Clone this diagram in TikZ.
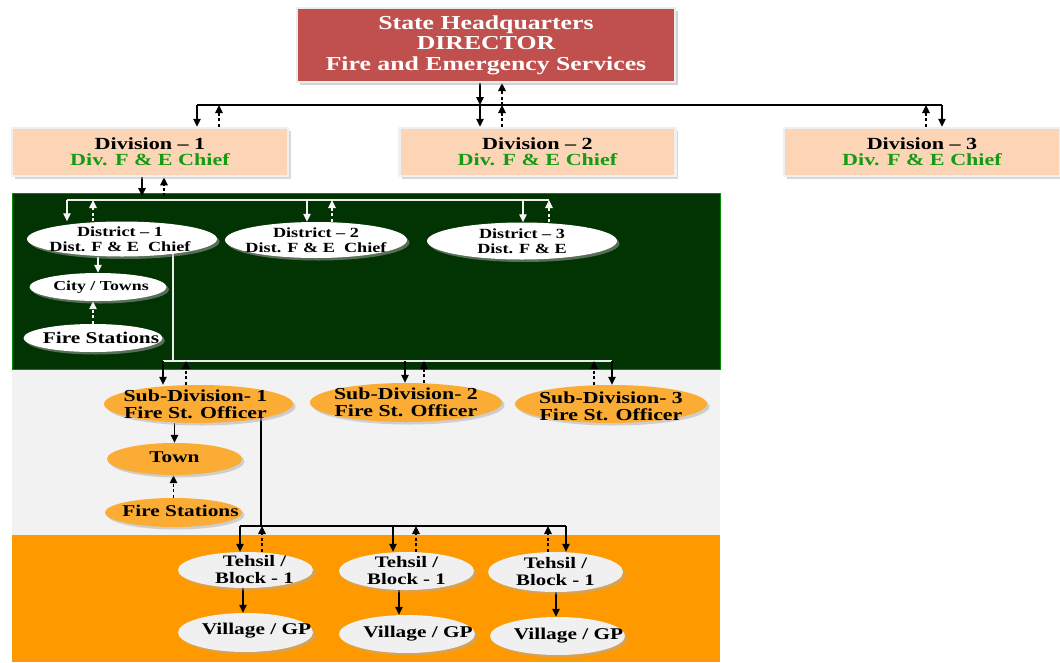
\documentclass[tikz,border=0pt]{standalone}
\usepackage{fontspec}
\setmainfont{Liberation Serif}[FakeStretch=1.3]
\usetikzlibrary{arrows.meta,shapes.geometric,shadows}
\definecolor{hqred}{HTML}{C0504D}
\definecolor{divfill}{HTML}{FBD5B5}
\definecolor{divgreen}{RGB}{20,155,20}
\definecolor{bggreen}{RGB}{2,51,2}
\definecolor{edgegreen}{RGB}{0,140,0}
\definecolor{bggray}{HTML}{F2F2F2}
\definecolor{bgorange}{HTML}{FF9900}
\definecolor{sdorange}{RGB}{251,172,52}
\definecolor{tehgray}{HTML}{F0F0F0}
\pgfdeclarelayer{bg}
\pgfdeclarelayer{lines}
\pgfsetlayers{bg,lines,main}
\tikzset{
  sarr/.style={-{Triangle[width=7.5pt,length=8pt]}, line width=1.2pt, black},
  darr/.style={sarr, dash pattern=on 3pt off 2.5pt},
  wsarr/.style={-{Triangle[width=7.5pt,length=8pt]}, line width=1.2pt, white!92!gray},
  wdarr/.style={wsarr, dash pattern=on 3pt off 2.5pt},
  ln/.style={line width=1.2pt, black},
  wln/.style={line width=1.2pt, white!85!gray},
  hqbox/.style={rectangle, minimum width=378pt, minimum height=74pt, fill=hqred,
    draw=gray!15, line width=2pt, text=white, align=center, inner sep=0pt,
    font=\fontsize{19.8}{20.5}\selectfont\bfseries,
    drop shadow={shadow xshift=3pt, shadow yshift=-3pt, fill=gray!70}},
  divbox/.style={rectangle, minimum width=276pt, minimum height=48pt, fill=divfill,
    draw=gray!12, line width=2.5pt, align=center, inner sep=0pt,
    font=\fontsize{17}{16}\selectfont\bfseries,
    drop shadow={shadow xshift=2.5pt, shadow yshift=-2.5pt, fill=gray!60}},
  ell/.style={ellipse, inner sep=0pt,
    drop shadow={shadow xshift=2.5pt, shadow yshift=-2.5pt, fill=gray!65}},
  wEll/.style={ell, fill=white},
  oEll/.style={ell, fill=sdorange},
  gEll/.style={ell, fill=tehgray},
  dtext/.style={align=center, inner sep=0pt, text=black, font=\fontsize{14}{15}\selectfont\bfseries},
  ctext/.style={align=center, inner sep=0pt, text=black, font=\fontsize{13.7}{15}\selectfont\bfseries},
  ftext/.style={align=center, inner sep=0pt, text=black, font=\fontsize{16.4}{17}\selectfont\bfseries},
  stext/.style={align=center, inner sep=0pt, text=black, font=\fontsize{16.8}{17}\selectfont\bfseries},
  ttext/.style={align=center, inner sep=0pt, text=black, font=\fontsize{16}{17}\selectfont\bfseries},
}
\begin{document}
\begin{tikzpicture}[x=1pt,y=-1pt]
\useasboundingbox (0,0) rectangle (1060,662);
\begin{pgfonlayer}{bg}
  \fill[white] (0,0) rectangle (1060,662);
  \fill[bggray] (12,369) rectangle (720,535);
  \fill[bgorange] (12,535) rectangle (720,662);
  \filldraw[fill=bggreen, draw=edgegreen, line width=1pt] (12,193) rectangle (720,369);
\end{pgfonlayer}

% nodes
\node[hqbox] (hq) at (486,45) {State Headquarters\\DIRECTOR\\Fire and Emergency Services};
\node[divbox] (div1) at (150,152) {Division – 1\\{\color{divgreen}Div. F \& E Chief}};
\node[divbox] (div2) at (537.5,152) {Division – 2\\{\color{divgreen}Div. F \& E Chief}};
\node[divbox] (div3) at (922,152) {Division – 3\\{\color{divgreen}Div. F \& E Chief}};

\node[wEll, minimum width=190pt, minimum height=35pt,
  label={[dtext, xshift=-2pt]center:{District – 1\\Dist. F \& E~~Chief}}] (dist1) at (122,239) {};
\node[wEll, minimum width=182pt, minimum height=36pt,
  label={[dtext]center:{District – 2\\Dist. F \& E~~Chief}}] (dist2) at (316,240) {};
\node[wEll, minimum width=190pt, minimum height=37pt,
  label={[dtext]center:{District – 3\\Dist. F \& E}}] (dist3) at (522,241) {};
\node[wEll, minimum width=137pt, minimum height=28pt,
  label={[ctext, xshift=3pt]center:{City / Towns}}] (city) at (98,287) {};
\node[wEll, minimum width=139pt, minimum height=28pt,
  label={[ftext, xshift=8pt]center:{Fire Stations}}] (fs1) at (93,338) {};

\node[oEll, minimum width=189pt, minimum height=38pt,
  label={[stext, xshift=-3pt]center:{Sub-Division- 1\\Fire St. Officer}}] (sd1) at (198.5,404) {};
\node[oEll, minimum width=192pt, minimum height=39pt,
  label={[stext]center:{Sub-Division- 2\\Fire St. Officer}}] (sd2) at (406,402.5) {};
\node[oEll, minimum width=192pt, minimum height=38pt,
  label={[stext, yshift=-2pt]center:{Sub-Division- 3\\Fire St. Officer}}] (sd3) at (611,404) {};
\node[oEll, minimum width=135pt, minimum height=32pt,
  label={[ftext, yshift=2pt]center:{Town}}] (town) at (174.5,459) {};
\node[oEll, minimum width=137pt, minimum height=29pt,
  label={[ftext, xshift=7pt, yshift=2pt]center:{Fire Stations}}] (fs2) at (173.5,512.5) {};

\node[gEll, minimum width=135pt, minimum height=36pt,
  label={[ttext, xshift=9pt]center:{Tehsil /\\Block - 1}}] (teh1) at (245.5,570) {};
\node[gEll, minimum width=135pt, minimum height=38pt,
  label={[ttext]center:{Tehsil /\\Block - 1}}] (teh2) at (406.5,571) {};
\node[gEll, minimum width=135pt, minimum height=40pt,
  label={[ttext]center:{Tehsil /\\Block - 1}}] (teh3) at (555.5,572) {};
\node[gEll, minimum width=135pt, minimum height=39pt,
  label={[ftext, xshift=11pt, yshift=2pt]center:{Village / GP}}] (vil1) at (245.5,632.5) {};
\node[gEll, minimum width=136pt, minimum height=38pt,
  label={[ftext, xshift=11pt]center:{Village / GP}}] (vil2) at (407,634) {};
\node[gEll, minimum width=135pt, minimum height=38pt,
  label={[ftext, xshift=11pt]center:{Village / GP}}] (vil3) at (557.5,636) {};

% junction coordinates
\coordinate (a0) at (197,105);  \coordinate (b0) at (942,105);
\coordinate (c0) at (480,105);  \coordinate (c0d) at (502,105);
\coordinate (a0d) at (219,105); \coordinate (b0d) at (926,105);
\coordinate (g1) at (142,196);  \coordinate (g1d) at (164,196);
\coordinate (w0a) at (67,200);  \coordinate (w0b) at (549,200);
\coordinate (w0c) at (307,200); \coordinate (w0e) at (523,200);
\coordinate (w0ad) at (93,200); \coordinate (w0cd) at (332,200);
\coordinate (w1) at (173,361);  \coordinate (w1a) at (163,361); \coordinate (w1b) at (612,361);
\coordinate (s1d) at (186,361); \coordinate (s2) at (405,361);
\coordinate (s2d) at (424,361); \coordinate (s3d) at (594,361);
\coordinate (t0) at (261,526);  \coordinate (t0a) at (240,526); \coordinate (t0b) at (566,526);
\coordinate (t1d) at (262,526); \coordinate (t2) at (393,526);
\coordinate (t2d) at (416,526); \coordinate (t3d) at (548,526);
\coordinate (v1) at (243,600);  \coordinate (v2) at (399,600); \coordinate (v3) at (556,600);

\begin{pgfonlayer}{lines}
  % state to divisions
  \draw[ln] (a0) -- (b0);
  \draw[sarr] (hq.south -| c0) -- (c0);
  \draw[sarr] (c0) -- (div2.north -| c0);
  \draw[darr] (c0d) -- (hq.south -| c0d);
  \draw[darr] (div2.north -| c0d) -- (c0d);
  \draw[sarr] (a0) -- (div1.north -| a0);
  \draw[darr] (div1.north -| a0d) -- (a0d);
  \draw[sarr] (b0) -- (div3.north -| b0);
  \draw[darr] (div3.north -| b0d) -- (b0d);
  % division 1 to districts
  \draw[sarr] (div1.south -| g1) -- (g1);
  \draw[darr] (g1d) -- (div1.south -| g1d);
  \draw[wln] (w0a) -- (w0b);
  \draw[wsarr] (w0a) -- (dist1.north -| w0a);
  \draw[wdarr] (dist1.north -| w0ad) -- (w0ad);
  \draw[wsarr] (w0c) -- (dist2.north -| w0c);
  \draw[wdarr] (dist2.north -| w0cd) -- (w0cd);
  \draw[wsarr] (w0e) -- (dist3.north -| w0e);
  \draw[wdarr] (dist3.north -| w0b) -- (w0b);
  \draw[wsarr] (dist1.south -| city.north) -- (city.north);
  \draw[wdarr] (fs1.north) -- (city.south -| fs1.north);
  % district 1 to sub-divisions
  \draw[wln] (dist1.center -| w1) -- (w1);
  \draw[wln] (w1a) -- (w1b);
  \draw[sarr] (w1a) -- (sd1.north -| w1a);
  \draw[darr] (sd1.north -| s1d) -- (s1d);
  \draw[sarr] (s2) -- (sd2.north -| s2);
  \draw[darr] (sd2.north -| s2d) -- (s2d);
  \draw[darr] (sd3.north -| s3d) -- (s3d);
  \draw[sarr] (w1b) -- (sd3.north -| w1b);
  \draw[sarr] (sd1.south -| town.north) -- (town.north);
  \draw[darr] (fs2.north) -- (town.south -| fs2.north);
  % sub-division 1 to tehsils
  \draw[ln] (sd1.center -| t0) -- (t0);
  \draw[ln] (t0a) -- (t0b);
  \draw[sarr] (t0a) -- (teh1.north -| t0a);
  \draw[darr] (teh1.north -| t1d) -- (t1d);
  \draw[sarr] (t2) -- (teh2.north -| t2);
  \draw[darr] (teh2.north -| t2d) -- (t2d);
  \draw[darr] (teh3.north -| t3d) -- (t3d);
  \draw[sarr] (t0b) -- (teh3.north -| t0b);
  \draw[sarr] (teh1.south -| v1) -- (vil1.north -| v1);
  \draw[sarr] (teh2.south -| v2) -- (vil2.north -| v2);
  \draw[sarr] (teh3.south -| v3) -- (vil3.north -| v3);
\end{pgfonlayer}
\end{tikzpicture}
\end{document}
